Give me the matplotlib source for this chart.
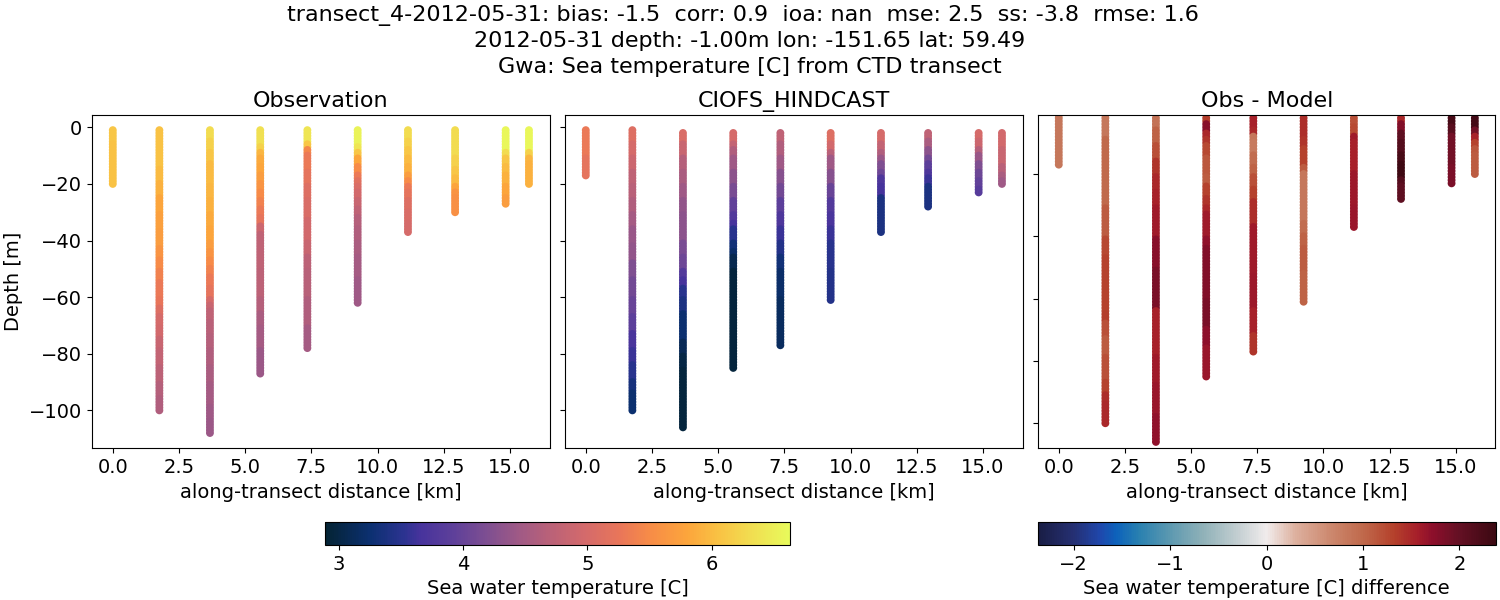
import matplotlib
matplotlib.use("Agg")
import matplotlib.pyplot as plt
from matplotlib.colors import LinearSegmentedColormap

W, H = 1500, 600

distance_km = [0.0, 1.76, 3.67, 5.57, 7.35, 9.25, 11.15, 12.93, 14.84, 15.72]
obs_top = [-1, -1, -1, -1, -1, -1, -1, -1, -1, -1]
model_top = [-1, -1, -2, -2, -2, -2, -2, -2, -2, -2]

# Values per metre of depth
obs_0 = [6.1]*5+[6.05]*15
obs_1 = [6.05]*14+[6.0]*5+[5.9]*5+[5.8]*6+[5.75]*6+[5.7]*6+[5.6]*4+[5.5]*4+[5.4]*4+[5.3]*6+[5.25]*3+[5.1]*3+[5.0]*4+[4.95]*4+[4.85]*4+[4.8]*6+[4.72]*6+[4.65]*5+[4.6]*5
obs_2 = [6.3]*4+[6.2]*4+[6.1]*4+[6.0]*8+[5.95]*5+[5.9]*5+[5.85]*5+[5.8]*5+[5.7]*3+[5.6]*3+[5.5]*3+[5.4]*3+[5.3]*4+[5.2]*4+[5.0]*2+[4.85]*2+[4.75]*4+[4.7]*5+[4.65]*5+[4.6]*6+[4.55]*6+[4.5]*8+[4.45]*5+[4.42]*5
obs_3 = [6.35]*6+[6.2]*2+[5.95]*2+[5.85]*3+[5.8]*3+[5.7]*3+[5.6]*3+[5.5]*3+[5.4]*3+[5.3]*3+[5.2]*3+[4.9]*3+[4.75]*13+[4.72]*10+[4.65]*5+[4.55]*5+[4.5]*8+[4.42]*9
obs_4 = [6.4]*5+[6.1]*2+[5.45]*2+[5.3]*6+[5.2]*5+[5.1]*5+[5.05]*7+[4.95]*8+[4.85]*5+[4.72]*5+[4.68]*10+[4.6]*10+[4.5]*8
obs_5 = [6.55]*6+[6.4]*2+[6.1]*2+[5.8]*3+[5.5]*3+[5.3]*2+[5.15]*2+[5.05]*2+[4.95]*3+[4.85]*3+[4.75]*3+[4.65]*4+[4.6]*5+[4.55]*5+[4.5]*8+[4.45]*9
obs_6 = [6.3]*4+[6.2]*3+[6.1]*3+[6.0]*3+[5.9]*3+[5.7]*2+[5.5]*2+[5.3]*2+[5.2]*3+[5.1]*4+[5.05]*4+[5.0]*4
obs_7 = [6.3]*10+[6.2]*4+[6.1]*3+[6.0]*3+[5.8]*2+[5.6]*2+[5.55]*6
obs_8 = [6.6]*8+[6.3]*2+[6.1]*3+[6.0]*3+[5.9]*4+[5.8]*4+[5.7]*3
obs_9 = [6.6]*8+[6.2]*2+[5.95]*2+[5.9]*8
observation = [obs_0, obs_1, obs_2, obs_3, obs_4, obs_5, obs_6, obs_7, obs_8, obs_9]

mod_0 = [5.3]*10+[5.2]*7
mod_1 = [5.1]*5+[5.0]*5+[4.9]*5+[4.75]*5+[4.7]*5+[4.6]*5+[4.5]*5+[4.4]*6+[4.35]*6+[4.2]*6+[4.1]*7+[4.0]*6+[3.9]*6+[3.7]*6+[3.6]*5+[3.5]*6+[3.35]*4+[3.25]*7
mod_2 = [5.05]*4+[4.85]*5+[4.65]*5+[4.55]*5+[4.45]*5+[4.35]*5+[4.3]*10+[4.15]*5+[4.05]*5+[3.8]*3+[3.65]*3+[3.5]*4+[3.4]*5+[3.25]*10+[3.1]*5+[3.0]*5+[2.95]*21
mod_3 = [5.0]*4+[4.8]*2+[4.6]*3+[4.45]*5+[4.3]*5+[4.15]*5+[3.95]*5+[3.8]*3+[3.65]*2+[3.5]*5+[3.3]*3+[3.2]*2+[3.05]*5+[2.95]*35
mod_4 = [4.75]*4+[4.6]*5+[4.45]*5+[4.25]*5+[4.1]*5+[3.9]*5+[3.75]*5+[3.6]*5+[3.45]*5+[3.3]*5+[3.2]*10+[3.15]*17
mod_5 = [5.1]*4+[4.95]*3+[4.7]*2+[4.45]*5+[4.25]*5+[4.0]*5+[3.8]*5+[3.7]*5+[3.6]*5+[3.5]*10+[3.45]*11
mod_6 = [5.0]*4+[4.8]*3+[4.6]*2+[4.4]*2+[4.2]*3+[4.05]*2+[3.75]*3+[3.65]*4+[3.4]*13
mod_7 = [4.75]*3+[4.55]*3+[4.3]*3+[4.1]*2+[3.9]*3+[3.75]*2+[3.6]*3+[3.4]*8
mod_8 = [5.0]*3+[4.9]*3+[4.65]*2+[4.4]*3+[4.2]*3+[4.05]*3+[3.95]*3+[3.85]*2
mod_9 = [4.95]*6+[4.85]*6+[4.7]*3+[4.55]*2+[4.45]*2
model = [mod_0, mod_1, mod_2, mod_3, mod_4, mod_5, mod_6, mod_7, mod_8, mod_9]

dif_0 = [0.85]*17
dif_1 = [0.85]*8+[1.0]*22+[1.1]*10+[1.25]*6+[1.3]*18+[1.35]*3+[1.2]*5+[1.1]*6+[1.2]*8+[1.3]*4+[1.45]*3+[1.5]*7
dif_2 = [0.9]*4+[1.05]*5+[1.2]*5+[1.4]*5+[1.5]*5+[1.55]*5+[1.6]*10+[1.75]*10+[1.85]*13+[1.55]*15+[1.6]*9+[1.65]*10+[1.7]*9
dif_3 = [1.35]*2+[1.75]*3+[1.5]*2+[1.4]*2+[1.25]*4+[1.15]*6+[1.1]*3+[1.3]*4+[1.4]*3+[1.5]*2+[1.6]*8+[1.7]*3+[1.8]*17+[1.85]*9+[1.72]*6+[1.65]*10
dif_4 = [1.55]*4+[1.5]*2+[0.85]*2+[0.8]*4+[0.95]*4+[1.05]*3+[1.2]*4+[1.3]*4+[1.45]*8+[1.6]*8+[1.6]*8+[1.62]*11+[1.55]*8+[1.4]*6
dif_5 = [1.45]*7+[1.4]*3+[1.3]*6+[1.1]*2+[0.85]*16+[0.95]*4+[1.05]*4+[1.1]*8+[1.05]*10
dif_6 = [1.2]*3+[1.25]*3+[1.6]*2+[1.55]*10+[1.62]*11+[1.65]*7
dif_7 = [1.5]*2+[1.8]*3+[2.05]*3+[2.15]*4+[2.25]*3+[2.35]*5+[2.15]*2+[2.05]*5
dif_8 = [2.25]*3+[2.1]*3+[1.9]*10+[1.85]*6
dif_9 = [2.3]*4+[1.9]*2+[1.55]*2+[1.3]*2+[1.15]*2+[1.1]*7
difference = [dif_0, dif_1, dif_2, dif_3, dif_4, dif_5, dif_6, dif_7, dif_8, dif_9]

temp_range = (2.889, 6.63)
diff_range = (-2.376, 2.376)

title_lines = ["transect_4-2012-05-31: bias: -1.5  corr: 0.9  ioa: nan  mse: 2.5  ss: -3.8  rmse: 1.6  ",
               "2012-05-31 depth: -1.00m lon: -151.65 lat: 59.49",
               "Gwa: Sea temperature [C] from CTD transect"]

thermal = LinearSegmentedColormap.from_list("thermal_like", [
    (0.00, "#042333"), (0.097, "#0c3071"), (0.168, "#2b3390"), (0.205, "#47339c"),
    (0.276, "#5e409a"), (0.35, "#7f4f91"), (0.42, "#a15a85"), (0.49, "#bc6277"),
    (0.56, "#d46a6b"), (0.635, "#e97659"), (0.70, "#f78c47"), (0.78, "#fca53c"),
    (0.85, "#f9c344"), (0.92, "#f1de51"), (1.00, "#e8fa5b")], N=256)
balance = LinearSegmentedColormap.from_list("balance_like", [
    (0.00, "#191d44"), (0.077, "#252f72"), (0.135, "#1f47ac"), (0.171, "#0d62bb"),
    (0.22, "#2880b0"), (0.287, "#5b98b0"), (0.36, "#8fb1b8"), (0.434, "#c1cdd0"),
    (0.50, "#f1ecec"), (0.564, "#ddb09e"), (0.636, "#cd8a71"), (0.709, "#c06a4c"),
    (0.78, "#b4402b"), (0.83, "#a61f2a"), (0.862, "#8e0f2b"), (0.92, "#651024"),
    (1.00, "#3c0912")], N=256)


def frac(x0, x1, ytop, ybot):
    return [x0 / W, 1 - ybot / H, (x1 - x0) / W, (ybot - ytop) / H]


plt.rcParams["font.size"] = 14
fig = plt.figure(figsize=(15, 6), dpi=100)
ax1 = fig.add_axes(frac(92.0, 549.6, 115, 448.3))
ax2 = fig.add_axes(frac(565.0, 1022.6, 115, 448.3), sharey=ax1)
ax3 = fig.add_axes(frac(1038.0, 1495.5, 115, 448.3))


def draw(ax, columns, tops, cmap, vrange):
    sc = None
    for x, top, vals in zip(distance_km, tops, columns):
        depth = [top - i for i in range(len(vals))]
        sc = ax.scatter([x] * len(vals), depth, c=vals, cmap=cmap,
                        vmin=vrange[0], vmax=vrange[1], s=32, linewidths=0)
    return sc


sc1 = draw(ax1, observation, obs_top, thermal, temp_range)
draw(ax2, model, model_top, thermal, temp_range)
sc3 = draw(ax3, difference, model_top, balance, diff_range)

ax1.set_ylim(-113.4, 4.35)
ax3.set_ylim(-108.05, -1.06)
ax2.tick_params(labelleft=False)
ax3.tick_params(labelleft=False)
ax3.set_yticks([-100, -80, -60, -40, -20])
ax1.set_ylabel("Depth [m]", fontsize=14)
for ax, name in zip((ax1, ax2, ax3), ("Observation", "CIOFS_HINDCAST", "Obs - Model")):
    ax.set_xlim(-0.785, 16.5)
    ax.set_title(name, fontsize=16)
    ax.set_xlabel("along-transect distance [km]", fontsize=14)
    ax.tick_params(labelsize=14)

cax1 = fig.add_axes(frac(324.8, 790.0, 522.3, 545))
cb1 = fig.colorbar(sc1, cax=cax1, orientation="horizontal")
cb1.set_ticks([3, 4, 5, 6])
cb1.set_label("Sea water temperature [C]", fontsize=14)
cb1.ax.tick_params(labelsize=14)

cax2 = fig.add_axes(frac(1037.5, 1495.6, 522.3, 545))
cb2 = fig.colorbar(sc3, cax=cax2, orientation="horizontal")
cb2.set_ticks([-2, -1, 0, 1, 2])
cb2.set_label("Sea water temperature [C] difference", fontsize=14)
cb2.ax.tick_params(labelsize=14)

fig.suptitle("\n".join(title_lines), fontsize=16, x=0.5, y=0.992, va="top", linespacing=1.35)
fig.savefig("out.png", dpi=100)
